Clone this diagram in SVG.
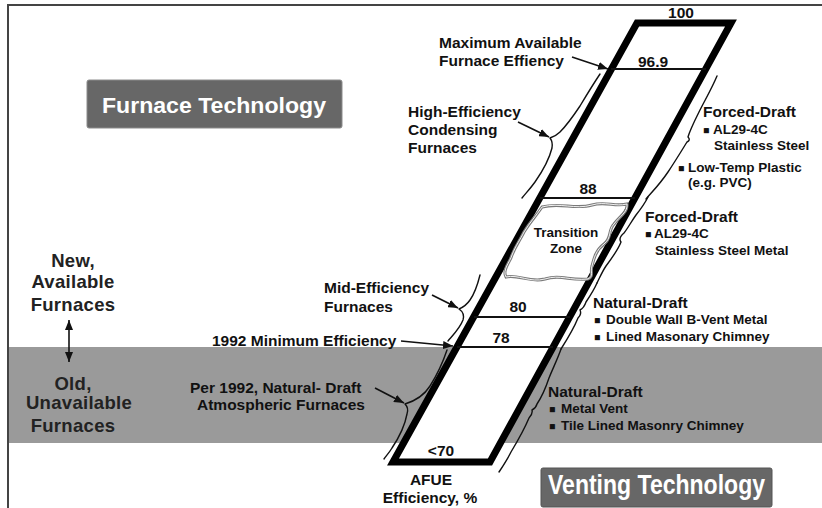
<svg xmlns="http://www.w3.org/2000/svg" width="822" height="508" viewBox="0 0 822 508">
<style>
text{font-family:"Liberation Sans",Arial,sans-serif;font-weight:bold;fill:#111}
.lb{font-size:15.5px}
.sm{font-size:13.5px}
.bul{font-size:10.5px}
.num{font-size:15.5px;text-anchor:middle}
.side{font-size:18.5px;text-anchor:middle;fill:#222;letter-spacing:0.3px}
.title{fill:#fff}
.brace{fill:none;stroke:#111;stroke-width:1.4;stroke-linecap:round;stroke-linejoin:round}
.arr{fill:none;stroke:#111;stroke-width:1.6}
.lvl{stroke:#111;stroke-width:2}
</style>
<defs>
<marker id="ah" markerUnits="userSpaceOnUse" markerWidth="10" markerHeight="8" refX="10" refY="4" orient="auto-start-reverse">
<path d="M0,0 L10,4 L0,8 Z" fill="#111"/>
</marker>
</defs>
<rect x="0" y="0" width="822" height="508" fill="#fff"/>
<g id="band"><rect x="8" y="347" width="814" height="96" fill="#9a9a9a"/></g>
<path d="M8 508 V5 H822" fill="none" stroke="#444" stroke-width="2"/>

<g id="furnace-technology">
<rect x="87" y="80" width="255" height="48" rx="2" fill="#676767" stroke="#8c8c8c" stroke-width="1"/>
<text class="title" x="102" y="113" font-size="21.5" textLength="224" lengthAdjust="spacingAndGlyphs">Furnace Technology</text>
</g>
<g id="venting-technology">
<rect x="541" y="468" width="231" height="39" rx="2" fill="#676767" stroke="#555" stroke-width="1"/>
<text class="title" x="548" y="494" font-size="27" textLength="217" lengthAdjust="spacingAndGlyphs">Venting Technology</text>
</g>

<g id="afue-scale">
<polygon points="637,23 731,23 490,462 393,462" fill="#fff" stroke="#000" stroke-width="7" stroke-linejoin="miter"/>
<line class="lvl" x1="611" y1="69" x2="706" y2="69"/>
<line class="lvl" x1="540" y1="198" x2="635" y2="198"/>
<line class="lvl" x1="474" y1="317" x2="570" y2="317"/>
<line class="lvl" x1="457" y1="347" x2="553" y2="347" stroke-width="1.6"/>
<text class="num" x="681" y="18">100</text>
<text class="lb" x="638" y="67">96.9</text>
<text class="num" x="588" y="194">88</text>
<text class="num" x="518" y="312">80</text>
<text class="num" x="501" y="343">78</text>
<text class="num" x="441" y="456">&lt;70</text>
<text class="num" x="431" y="485">AFUE</text>
<text class="num" x="430" y="503">Efficiency, %</text>
</g>

<g id="transition-zone">
<path d="M542 207 C560 202,575 210,592 205 C605 201,615 207,627 204 C628 212,620 216,614 224 C608 230,612 238,604 244 C596 250,594 258,592 266 C590 272,594 276,588 279 C570 281,560 274,545 279 C530 283,518 274,506 277 C502 270,510 262,512 255 C516 245,520 240,524 232 C530 222,536 216,542 207 Z" fill="none" stroke="#7a7a7a" stroke-width="3"/>
<path d="M542 207 C560 202,575 210,592 205 C605 201,615 207,627 204 C628 212,620 216,614 224 C608 230,612 238,604 244 C596 250,594 258,592 266 C590 272,594 276,588 279 C570 281,560 274,545 279 C530 283,518 274,506 277 C502 270,510 262,512 255 C516 245,520 240,524 232 C530 222,536 216,542 207 Z" fill="none" stroke="#fff" stroke-width="0.9"/>
<text class="sm" x="566" y="237" text-anchor="middle">Transition</text>
<text class="sm" x="566" y="253" text-anchor="middle">Zone</text>
</g>

<g id="braces">
<path class="brace" d="M600 74 C592 86,586 96,580 106 C572 118,566 126,560 132 Q556 136,550 138 Q553 142,552 148 C549 160,542 172,535 182 C530 189,526 193,522 198"/>
<path class="brace" d="M480 275 C478 283,475 293,470 300 Q466 306,459 309 Q465 313,463 320 C460 328,454 334,448 341"/>
<path class="brace" d="M447 350 C443 362,437 375,430 386 C425 394,418 400,405 404 Q409 408,407 414 C405 425,400 436,392 448 C389 453,386 456,384 459"/>
<path class="brace" d="M717 76 C712 88,705 100,699 112 C694 122,690 130,688 137 Q691 140,687 142 C682 150,676 160,668 172 C660 184,652 192,646 199"/>
<path class="brace" d="M648 197 C644 205,640 210,636 215 C631 222,628 228,624 233 Q618 238,621 242 C618 250,612 258,606 266 C602 272,600 277,597 283"/>
<path class="brace" d="M597 283 C594 290,590 296,586 302 Q584 308,580 310 Q582 314,578 318 C574 328,568 338,561 349"/>
<path class="brace" d="M561 349 C558 358,553 368,549 378 C545 390,541 398,537 404 Q536 408,532 410 Q533 414,529 418 C524 430,517 442,511 452 C507 460,503 466,499 472"/>
</g>

<g id="label-max">
<text class="lb" x="439" y="48">Maximum Available</text>
<text class="lb" x="439" y="66">Furnace Effiency</text>
</g>
<g id="label-high">
<text class="lb" x="408" y="117">High-Efficiency</text>
<text class="lb" x="408" y="135">Condensing</text>
<text class="lb" x="408" y="153">Furnaces</text>
</g>
<g id="label-mid">
<text class="lb" x="324" y="293">Mid-Efficiency</text>
<text class="lb" x="324" y="312">Furnaces</text>
</g>
<g id="label-1992">
<text class="lb" x="212" y="346">1992 Minimum Efficiency</text>
</g>
<g id="label-per1992">
<text class="lb" x="190" y="393">Per 1992, Natural- Draft</text>
<text class="lb" x="197" y="410">Atmospheric Furnaces</text>
</g>

<g id="vent-forced-1">
<text class="lb" x="703" y="117">Forced-Draft</text>
<text class="sm" x="703" y="134"><tspan class="bul">■</tspan><tspan x="713">AL29-4C</tspan></text>
<text class="sm" x="714" y="150">Stainless Steel</text>
<text class="sm" x="678" y="172"><tspan class="bul">■</tspan><tspan x="688">Low-Temp Plastic</tspan></text>
<text class="sm" x="688" y="187">(e.g. PVC)</text>
</g>
<g id="vent-forced-2">
<text class="lb" x="645" y="222">Forced-Draft</text>
<text class="sm" x="645" y="238"><tspan class="bul">■</tspan><tspan x="654">AL29-4C</tspan></text>
<text class="sm" x="655" y="255">Stainless Steel Metal</text>
</g>
<g id="vent-natural-1">
<text class="lb" x="593" y="308">Natural-Draft</text>
<text class="sm" x="594" y="324"><tspan class="bul">■</tspan><tspan x="606">Double Wall B-Vent Metal</tspan></text>
<text class="sm" x="594" y="341"><tspan class="bul">■</tspan><tspan x="606">Lined Masonary Chimney</tspan></text>
</g>
<g id="vent-natural-2">
<text class="lb" x="548" y="397">Natural-Draft</text>
<text class="sm" x="549" y="413"><tspan class="bul">■</tspan><tspan x="561">Metal Vent</tspan></text>
<text class="sm" x="549" y="430"><tspan class="bul">■</tspan><tspan x="561">Tile Lined Masonry Chimney</tspan></text>
</g>

<g id="new-furnaces">
<text class="side" x="73" y="267">New,</text>
<text class="side" x="73" y="288">Available</text>
<text class="side" x="73" y="311">Furnaces</text>
</g>
<g id="old-furnaces">
<text class="side" x="73" y="390">Old,</text>
<text class="side" x="79" y="409">Unavailable</text>
<text class="side" x="73" y="432">Furnaces</text>
</g>

<g id="connectors">
<path class="arr" d="M572 57 L608 69" marker-end="url(#ah)"/>
<path class="arr" d="M518 122 L549 137" marker-end="url(#ah)"/>
<path class="arr" d="M432 295 L458 308" marker-end="url(#ah)"/>
<path class="arr" d="M401 341 L453 346" marker-end="url(#ah)"/>
<path class="arr" d="M375 388 L404 403" marker-end="url(#ah)"/>
<path class="arr" d="M69 320 L69 362" stroke-width="1.3" marker-start="url(#ah)" marker-end="url(#ah)"/>
</g>
</svg>
